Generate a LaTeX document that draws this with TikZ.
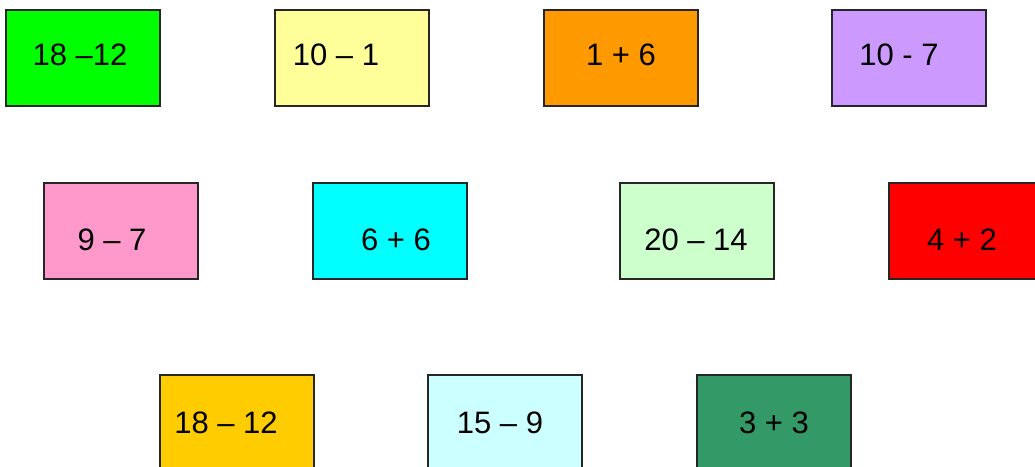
\documentclass[tikz,border=0pt]{standalone}
\usepackage{fontspec}
\setmainfont{Liberation Sans}
\usetikzlibrary{positioning}
\definecolor{cdgreen}{HTML}{00FF00}
\definecolor{cdyellow}{HTML}{FFFF99}
\definecolor{cdorange}{HTML}{FF9900}
\definecolor{cdlilac}{HTML}{CC99FF}
\definecolor{cdpink}{HTML}{FF99CC}
\definecolor{cdcyan}{HTML}{00FFFF}
\definecolor{cdmint}{HTML}{CCFFCC}
\definecolor{cdred}{HTML}{FF0000}
\definecolor{cdgold}{HTML}{FFCC00}
\definecolor{cdice}{HTML}{CCFFFF}
\definecolor{cdsea}{HTML}{339966}
\tikzset{
  card/.style={rectangle, draw=black!85, line width=1.4pt, inner sep=0pt,
               minimum width=154pt, minimum height=96pt},
  sum/.style={font=\fontsize{31}{37}\selectfont, text=black, inner sep=0pt},
}

\begin{document}
\begin{tikzpicture}[x=1pt, y=-1pt]
    \useasboundingbox (0,0) rectangle (1035,466);
    \clip (0,0) rectangle (1035,466);
    % first row
    \node[card, fill=cdgreen]  (c1)  at (83,58)  {};
    \node[card, fill=cdyellow] (c2)  at (352,58) {};
    \node[card, fill=cdorange] (c3)  at (621,58) {};
    \node[card, fill=cdlilac]  (c4)  at (909,58) {};
    % second row
    \node[card, fill=cdpink]   (c5)  at (121,231) {};
    \node[card, fill=cdcyan]   (c6)  at (390,231) {};
    \node[card, fill=cdmint]   (c7)  at (697,231) {};
    \node[card, fill=cdred]    (c8)  at (966,231) {};
    % third row
    \node[card, fill=cdgold]   (c9)  at (237,423) {};
    \node[card, fill=cdice]    (c10) at (505,423) {};
    \node[card, fill=cdsea]    (c11) at (774,423) {};
    % sums
    \node[sum] (s1)  at ([shift={(-3,-3)}]c1.center)  {18 –12};
    \node[sum] (s2)  at ([shift={(-16,-3)}]c2.center) {10 – 1};
    \node[sum] (s3)  at ([shift={(0,-3)}]c3.center)   {1 + 6};
    \node[sum] (s4)  at ([shift={(-10,-3)}]c4.center) {10 - 7};
    \node[sum] (s5)  at ([shift={(-9,9)}]c5.center)   {9 – 7};
    \node[sum] (s6)  at ([shift={(6,9)}]c6.center)    {6 + 6};
    \node[sum] (s7)  at ([shift={(-1,9)}]c7.center)   {20 – 14};
    \node[sum] (s8)  at ([shift={(-4,9)}]c8.center)   {4 + 2};
    \node[sum] (s9)  at ([shift={(-11,0)}]c9.center)  {18 – 12};
    \node[sum] (s10) at ([shift={(-5,0)}]c10.center)  {15 – 9};
    \node[sum] (s11) at ([shift={(0,0)}]c11.center)   {3 + 3};
\end{tikzpicture}
\end{document}
